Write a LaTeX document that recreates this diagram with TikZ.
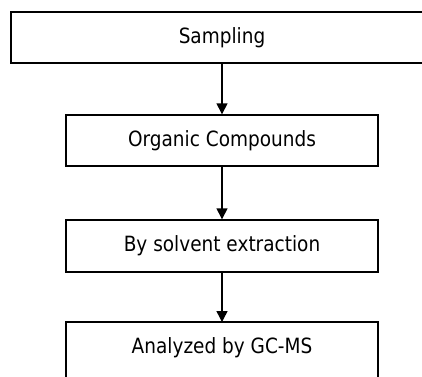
\documentclass[tikz,border=0pt]{standalone}
\usepackage{fontspec}
\setmainfont{DejaVu Sans}[FakeStretch=0.88]
\usetikzlibrary{arrows.meta}
\begin{document}
\begin{tikzpicture}[x=1pt,y=-1pt,
  box/.style={rectangle,draw=black,line width=1.4pt,inner sep=0pt,
    minimum height=51pt,font=\fontsize{21pt}{25pt}\selectfont},
  arr/.style={line width=1.4pt,-{Triangle[width=11pt,length=11pt]}}]
\useasboundingbox (0,0) rectangle (422,376);
\clip (0,0) rectangle (422,376);
\fill[white] (0,0) rectangle (422,376);
\node[box,minimum width=422pt] (s1) at (222,37.5) {Sampling};
\node[box,minimum width=312pt] (s2) at (222,140.5) {Organic Compounds};
\node[box,minimum width=312pt,minimum height=52pt] (s3) at (222,246) {By solvent extraction};
\node[box,draw=none,outer sep=0pt,minimum width=312pt,minimum height=52pt] (s4) at (222,348) {Analyzed by GC-MS};
\draw[line width=1.4pt] ([yshift=-8pt]s4.south west) -- (s4.north west) -- (s4.north east) -- ([yshift=-8pt]s4.south east);
\draw[arr] (s1) -- (s2);
\draw[arr] (s2) -- (s3);
\draw[arr] (s3) -- (s4);
\end{tikzpicture}
\end{document}
